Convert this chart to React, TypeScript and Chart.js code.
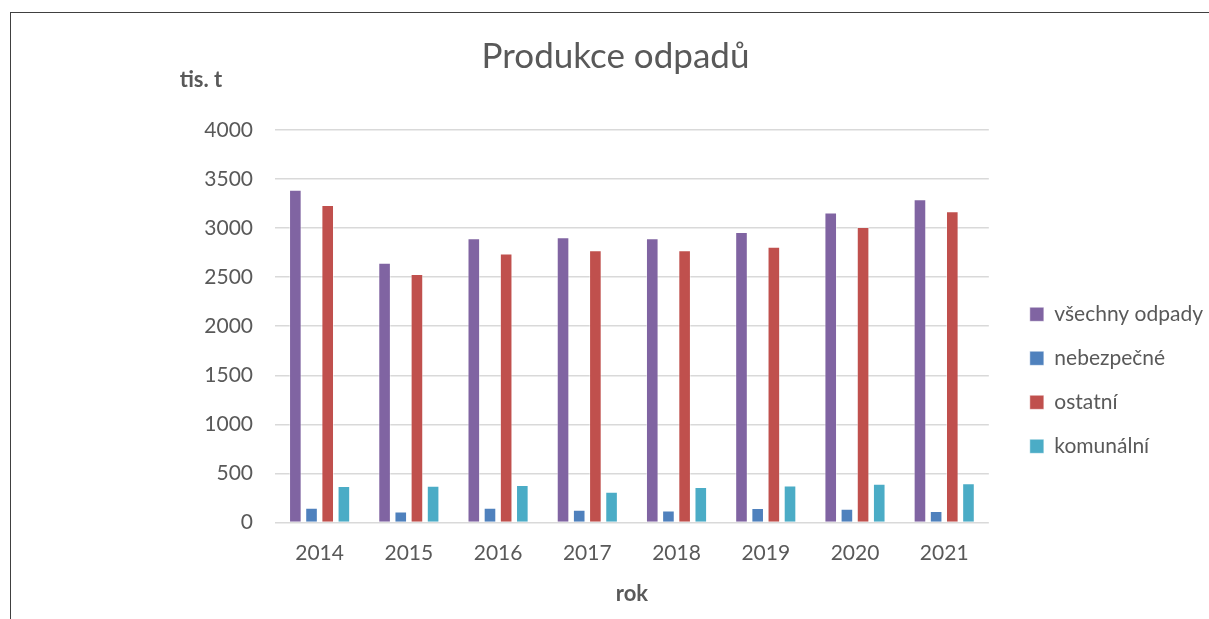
import React, { useEffect, useRef } from "react";
import { Chart, registerables } from "chart.js";

Chart.register(...registerables);

const years = ["2014", "2015", "2016", "2017", "2018", "2019", "2020", "2021"];
const vsechnyOdpady = [3392, 2648, 2896, 2906, 2896, 2960, 3158, 3293];
const nebezpecne = [149, 112, 149, 128, 122, 146, 139, 115];
const ostatni = [3235, 2532, 2740, 2774, 2774, 2811, 3011, 3171];
const komunalni = [370, 373, 380, 312, 360, 377, 393, 400];

const TEXT = "#595959";
const FONT = "Lato, 'Noto Sans', sans-serif";

const unitLabelPlugin = {
  id: "unitLabel",
  afterLayout(chart: any) {
    if (chart.legend) {
      chart.legend.left += 18;
      chart.legend.right += 18;
    }
  },
  afterDraw(chart: any) {
    const { ctx } = chart;
    ctx.save();
    ctx.font = `bold 22px ${FONT}`;
    ctx.fillStyle = TEXT;
    ctx.textAlign = "center";
    ctx.textBaseline = "middle";
    ctx.fillText("tis. t", 201, 80);
    ctx.restore();
  },
};

export default function App() {
  const ref = useRef<HTMLCanvasElement | null>(null);

  useEffect(() => {
    if (!ref.current) return;
    const mk = (label: string, data: number[], color: string) => ({
      label,
      data,
      backgroundColor: color,
      borderColor: "rgba(255,255,255,0.45)",
      borderWidth: 1,
      categoryPercentage: 0.725,
      barPercentage: 0.78,
    });
    const chart = new Chart(ref.current, {
      type: "bar",
      data: {
        labels: years,
        datasets: [
          mk("všechny odpady", vsechnyOdpady, "#8064A2"),
          mk("nebezpečné", nebezpecne, "#4F81BD"),
          mk("ostatní", ostatni, "#C0504D"),
          mk("komunální", komunalni, "#4BACC6"),
        ],
      },
      options: {
        responsive: false,
        animation: false,
        maintainAspectRatio: false,
        layout: { padding: { left: 36, right: 14, top: 0, bottom: 0 } },
        plugins: {
          title: {
            display: true,
            text: "Produkce odpadů",
            color: TEXT,
            font: { family: FONT, size: 35, weight: "normal" },
            padding: { top: 36, bottom: 52 },
          },
          legend: {
            position: "right",
            align: "center",
            title: {
              display: true,
              text: " ",
              font: { size: 8 },
              padding: { top: 66, bottom: 66 },
            },
            labels: {
              color: TEXT,
              font: { family: FONT, size: 21 },
              boxWidth: 14,
              boxHeight: 14,
              padding: 23,
            },
          },
          tooltip: { enabled: false },
        },
        scales: {
          x: {
            grid: { display: false },
            border: { display: false },
            ticks: { color: TEXT, font: { family: FONT, size: 21 }, padding: 10 },
            title: {
              display: true,
              text: "rok",
              color: TEXT,
              font: { family: FONT, size: 22, weight: "bold" },
              padding: { top: 5, bottom: 12 },
            },
          },
          y: {
            min: 0,
            max: 4000,
            ticks: {
              stepSize: 500,
              color: TEXT,
              font: { family: FONT, size: 21 },
              padding: 22,
              callback: (v: any) => String(v),
            },
            grid: { color: "#d9d9d9", lineWidth: 1.5, drawTicks: false },
            border: { display: false },
            afterFit: (s: any) => {
              s.width = 239;
            },
          },
        },
      },
      plugins: [unitLabelPlugin],
    });
    return () => chart.destroy();
  }, []);

  return (
    <div
      style={{
        position: "fixed",
        left: 0,
        top: 0,
        width: 1209,
        height: 619,
        overflow: "hidden",
        background: "#fff",
      }}
    >
      <div
        style={{
          position: "absolute",
          left: 10,
          top: 12,
          width: 1400,
          height: 800,
          borderLeft: "1px solid #404040",
          borderTop: "1px solid #404040",
        }}
      />
      <canvas
        ref={ref}
        width={1209}
        height={619}
        style={{ position: "absolute", left: 0, top: 0, width: 1209, height: 619 }}
      />
    </div>
  );
}
